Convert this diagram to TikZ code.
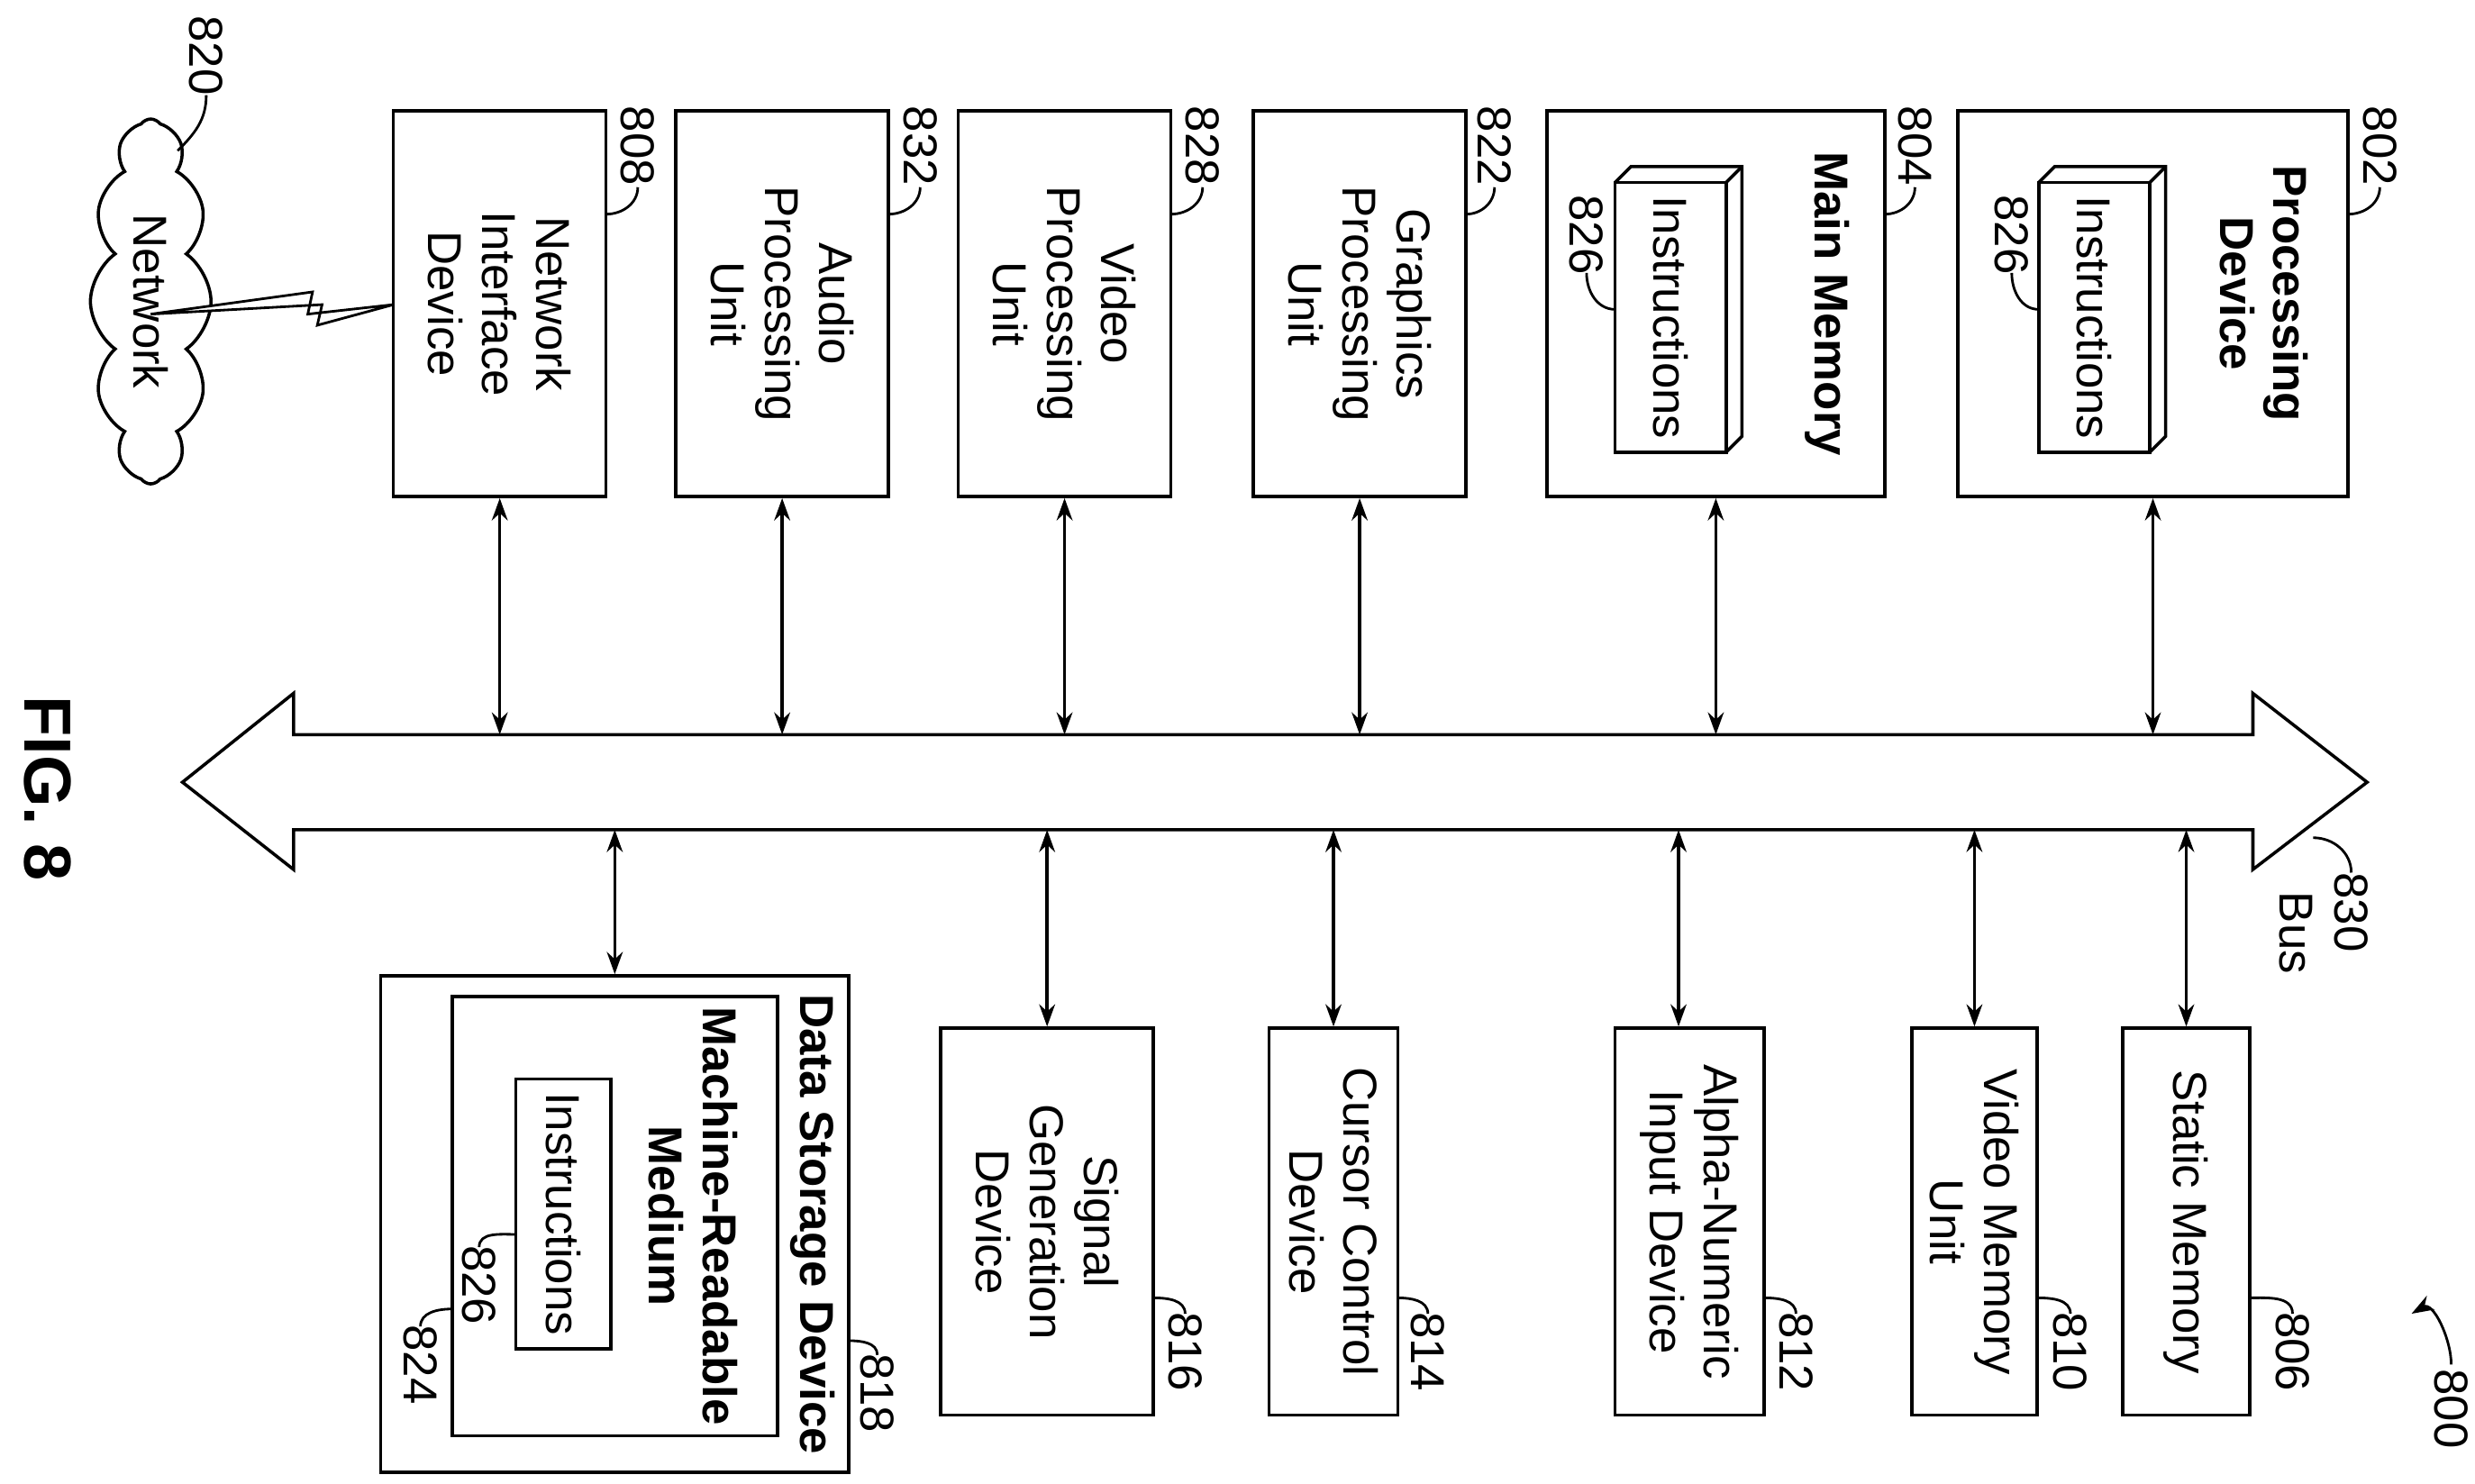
\documentclass[tikz,border=0pt]{standalone}
\usepackage{fontspec}
\setmainfont{Liberation Sans}
\usetikzlibrary{shapes.symbols,arrows.meta}
\begin{document}
\begin{tikzpicture}[x=0.5pt,y=-0.5pt,
 every node/.style={font=\fontsize{15}{17}\selectfont},
 box/.style={draw,line width=1pt,rotate=-90,align=center,inner sep=0pt},
 lbl/.style={rotate=-90,inner sep=1pt},
 bt/.style={rotate=-90,align=center,font=\fontsize{15}{17}\selectfont\bfseries},
 lead/.style={line width=0.8pt},
 bi/.style={line width=1pt,{Stealth[length=7pt,width=5pt]}-{Stealth[length=7pt,width=5pt]}}]
\useasboundingbox (0,0) rectangle (1560,935);
% top boxes
\node[box,minimum width=121.5pt,minimum height=67pt] (nid) at (315,191.5) {Network\\Interface\\Device};
\node[box,minimum width=121.5pt,minimum height=67pt] (apu) at (493,191.5) {Audio\\Processing\\Unit};
\node[box,minimum width=121.5pt,minimum height=67pt] (vpu) at (671,191.5) {Video\\Processing\\Unit};
\node[box,minimum width=121.5pt,minimum height=67pt] (gpu) at (857,191.5) {Graphics\\Processing\\Unit};
\node[box,minimum width=121.5pt,minimum height=106.5pt] (mm) at (1081.5,191.5) {};
\node[box,minimum width=121.5pt,minimum height=123pt] (pd) at (1357,191.5) {};
\node[bt] (mmt) at (1152,191.5) {Main Memory};
\node[bt] (pdt) at (1427,185) {Processing\\Device};
% 3D instruction boxes
\foreach \x/\n in {1018/mi,1285/pi}{
 \draw[line width=1pt] (\x,115) rectangle (\x+70,285);
 \draw[line width=1pt] (\x,115) -- (\x+10,105) -- (\x+80,105) -- (\x+80,275) -- (\x+70,285);
 \draw[line width=1pt] (\x+70,115) -- (\x+80,105);
 \node[lbl] (\n) at (\x+35,200) {Instructions};
}
% bottom boxes
\node[box,minimum width=122pt,minimum height=67pt] (sgd) at (660,770) {Signal\\Generation\\Device};
\node[box,minimum width=122pt,minimum height=40.5pt] (ccd) at (840.5,770) {Cursor Control\\Device};
\node[box,minimum width=122pt,minimum height=47pt] (anid) at (1065,770) {Alpha-Numeric\\Input Device};
\node[box,minimum width=122pt,minimum height=39.5pt] (vmu) at (1244.5,770) {Video Memory\\Unit};
\node[box,minimum width=122pt,minimum height=40pt] (sm) at (1378,770) {Static Memory};
\node[box,minimum width=156.5pt,minimum height=147.5pt] (dsd) at (387.5,771.5) {};
\node[box,minimum width=138.5pt,minimum height=102.5pt] (mrm) at (387.5,766.5) {};
\node[box,minimum width=85pt,minimum height=30pt] (ins) at (355,765) {Instructions};
\node[bt] (dsdt) at (512,771.5) {Data Storage Device};
\node[bt] (mrmt) at (437,766.5) {Machine-Readable\\Medium};
% bus
\draw[line width=1pt] (115,493) -- (185,437) -- (185,463) -- (1420,463) -- (1420,437) -- (1492,493) -- (1420,548) -- (1420,523) -- (185,523) -- (185,548) -- cycle;
\foreach \n/\x in {t1/315,t2/493,t3/671,t4/857,t5/1081.5,t6/1357}{\coordinate (\n) at (\x,463);}
\foreach \n/\x in {u1/387.5,u2/660,u3/840.5,u4/1058,u5/1244.5,u6/1378}{\coordinate (\n) at (\x,523);}
\draw[bi] (nid.east) -- (t1); \draw[bi] (apu.east) -- (t2); \draw[bi] (vpu.east) -- (t3);
\draw[bi] (gpu.east) -- (t4); \draw[bi] (mm.east) -- (t5); \draw[bi] (pd.east) -- (t6);
\draw[bi] (u1) -- (u1 |- dsd.west); \draw[bi] (u2) -- (u2 |- sgd.west); \draw[bi] (u3) -- (u3 |- ccd.west);
\draw[bi] (u4) -- (u4 |- anid.west); \draw[bi] (u5) -- (u5 |- vmu.west); \draw[bi] (u6) -- (u6 |- sm.west);
% network
\node[cloud,draw,line width=1pt,cloud puffs=12,cloud puff arc=110,aspect=3,minimum width=115pt,minimum height=38pt,rotate=-90,inner sep=0pt] (net) at (95,190) {Network};
\draw[line width=0.8pt,fill=white] (net.east |- 0,198) -- (197,184) -- (194,198) -- (248,192) -- (200,205) -- (203,192) -- cycle;
% labels
\foreach \t/\x/\bx in {808/402/382,832/580/560,828/758/738,822/942/924,804/1207/1188,802/1500/1480}{
 \node[lbl] (l\t) at (\x,92) {\t};
 \draw[lead] (\x,118) to[out=-90,in=0] (\bx,135);
}
\node[lbl] (l826a) at (1268,148) {826}; \draw[lead] (1268,172) to[out=-90,in=180] (1285,195);
\node[lbl] (l826b) at (1000,148) {826}; \draw[lead] (1000,172) to[out=-90,in=180] (1018,195);
\foreach \t/\x/\bx in {806/1445/1418,810/1305/1284,812/1132/1112,814/900/881,816/747/727}{
 \node[lbl] (l\t) at (\x,852) {\t};
 \draw[lead] (\x,828) to[out=90,in=0] (\bx,818);
}
\node[lbl] (l818) at (553,878) {818}; \draw[lead] (553,854) to[out=90,in=0] (535,845);
\node[lbl] (l824) at (265,860) {824}; \draw[lead] (265,836) to[out=90,in=180] (285,825);
\node[lbl] (l826c) at (302,810) {826}; \draw[lead] (302,786) to[out=90,in=180] (325,778);
\node[lbl] (l830) at (1482,575) {830}; \draw[lead] (1482,550) to[out=90,in=0] (1458,528);
\node[lbl] (lbus) at (1447,588) {Bus};
\node[lbl] (l820) at (130,35) {820}; \draw[lead] (130,60) to[out=-90,in=45] (112,95);
\node[lbl] (l800) at (1545,888) {800};
\draw[lead,-{Stealth[length=7pt,width=5pt]}] (1545,860) to[out=90,in=30] (1520,828);
\node[rotate=-90,font=\fontsize{21}{24}\selectfont\bfseries] (fig) at (30,497) {FIG. 8};
\end{tikzpicture}
\end{document}
